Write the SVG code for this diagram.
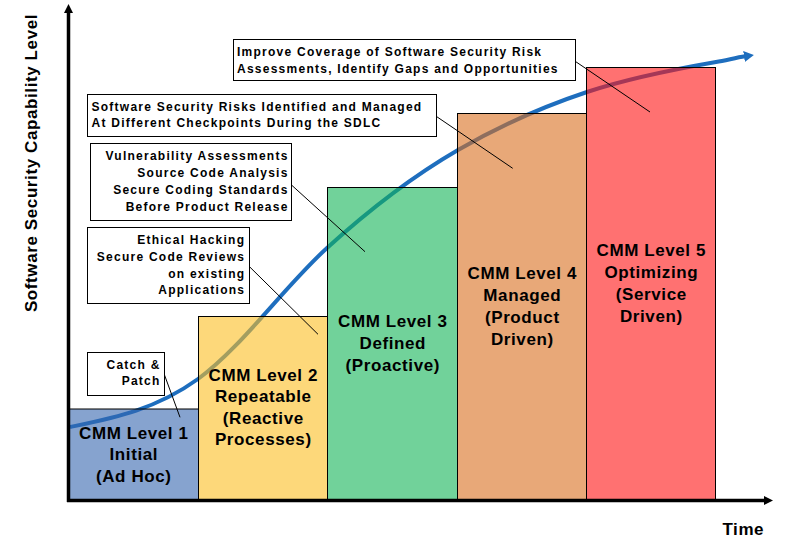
<svg xmlns="http://www.w3.org/2000/svg" width="788" height="544" viewBox="0 0 788 544">
<defs>
<marker id="trendHead" markerUnits="userSpaceOnUse" markerWidth="10" markerHeight="11" refX="1" refY="5.5" orient="auto" viewBox="0 0 10 11"><path d="M0,0 L10,5.5 L0,11 z" fill="#1E6EBE"/></marker>
<marker id="axisHead" markerUnits="userSpaceOnUse" markerWidth="9" markerHeight="9" refX="1" refY="4.5" orient="auto" viewBox="0 0 9 9"><path d="M0,0 L9,4.5 L0,9 z" fill="#000"/></marker>
<style>
.bar{fill-opacity:0.6;stroke:#000;stroke-width:1}
.lvl{font-family:"Liberation Sans",Arial,sans-serif;font-weight:bold;font-size:17px;letter-spacing:0.6px;text-anchor:middle;fill:#000}
.note rect{fill:#fff;stroke:#000;stroke-width:1}
.note text{font-family:"Liberation Sans",Arial,sans-serif;font-weight:bold;font-size:12px;letter-spacing:1.25px;fill:#000}
.r{text-anchor:end}
.lead{stroke:#000;stroke-width:1;fill:none}
.axis{stroke:#000;stroke-width:3.5;fill:none}
</style>
</defs>
<rect x="0" y="0" width="788" height="544" fill="#fff"/>

<g id="trend">
<path d="M70,427 C113,418 155,410 198,379 C241,348 284,287 327,248 C371,208 414,175.5 458,150 C501,125 544,106.3 587,92 C630,77.7 673,69.5 716,62 C726,60.3 736,57.7 745,56.3" fill="none" stroke="#1E6EBE" stroke-width="4" marker-end="url(#trendHead)"/>
</g>

<g id="level1">
<rect class="bar" x="69" y="409" width="129.5" height="91" fill="#3566AF" stroke-width="2"/>
<text class="lvl" x="133.8" y="438.5">CMM Level 1</text>
<text class="lvl" x="133.8" y="460">Initial</text>
<text class="lvl" x="133.8" y="481.5">(Ad Hoc)</text>
</g>
<g id="level2">
<rect class="bar" x="198.5" y="316.5" width="129" height="184" fill="#FCBE21"/>
<text class="lvl" x="263.3" y="381">CMM Level 2</text>
<text class="lvl" x="263.3" y="402">Repeatable</text>
<text class="lvl" x="263.3" y="423.5">(Reactive</text>
<text class="lvl" x="263.3" y="445">Processes)</text>
</g>
<g id="level3">
<rect class="bar" x="327.5" y="187.5" width="130" height="313" fill="#12B457"/>
<text class="lvl" x="392.8" y="327">CMM Level 3</text>
<text class="lvl" x="392.8" y="349">Defined</text>
<text class="lvl" x="392.8" y="370.5">(Proactive)</text>
</g>
<g id="level4">
<rect class="bar" x="457.5" y="113.5" width="129" height="387" fill="#D96E1E"/>
<text class="lvl" x="522.3" y="279">CMM Level 4</text>
<text class="lvl" x="522.3" y="301">Managed</text>
<text class="lvl" x="522.3" y="323">(Product</text>
<text class="lvl" x="522.3" y="345">Driven)</text>
</g>
<g id="level5">
<rect class="bar" x="586.5" y="67.5" width="129" height="433" fill="#FF1212"/>
<text class="lvl" x="651.3" y="256">CMM Level 5</text>
<text class="lvl" x="651.3" y="278">Optimizing</text>
<text class="lvl" x="651.3" y="300">(Service</text>
<text class="lvl" x="651.3" y="322">Driven)</text>
</g>

<g id="axes">
<line class="axis" x1="68.5" y1="502" x2="68.5" y2="12" marker-end="url(#axisHead)"/>
<line class="axis" x1="67" y1="500.5" x2="765" y2="500.5" marker-end="url(#axisHead)"/>
<text class="lvl" transform="translate(36.5,163) rotate(-90)" x="0" y="0">Software Security Capability Level</text>
<text class="lvl" x="743.3" y="535">Time</text>
</g>

<g id="note-improve" class="note">
<rect x="233.5" y="39.5" width="342" height="41"/>
<text x="237" y="56">Improve Coverage of Software Security Risk</text>
<text x="237" y="72.5">Assessments, Identify Gaps and Opportunities</text>
</g>
<g id="note-sdlc" class="note">
<rect x="87.5" y="94.5" width="349" height="42"/>
<text x="91.5" y="110.5">Software Security Risks Identified and Managed</text>
<text x="91.5" y="127">At Different Checkpoints During the SDLC</text>
</g>
<g id="note-vuln" class="note">
<rect x="90.5" y="143.5" width="201" height="77"/>
<text class="r" x="288.6" y="160">Vulnerability Assessments</text>
<text class="r" x="288.6" y="177">Source Code Analysis</text>
<text class="r" x="288.6" y="194">Secure Coding Standards</text>
<text class="r" x="288.6" y="210.7">Before Product Release</text>
</g>
<g id="note-ethical" class="note">
<rect x="87.5" y="227.5" width="162" height="76"/>
<text class="r" x="245.3" y="244">Ethical Hacking</text>
<text class="r" x="245.3" y="261">Secure Code Reviews</text>
<text class="r" x="245.3" y="277.5">on existing</text>
<text class="r" x="245.3" y="294">Applications</text>
</g>
<g id="note-catch" class="note">
<rect x="87.5" y="352.5" width="77" height="43"/>
<text class="r" x="160.6" y="368.5">Catch &amp;</text>
<text class="r" x="160.6" y="385">Patch</text>
</g>

<g id="connectors">
<line class="lead" x1="575.5" y1="61.5" x2="650" y2="112"/>
<line class="lead" x1="436.5" y1="116.5" x2="512.7" y2="168.3"/>
<line class="lead" x1="291.5" y1="185" x2="365" y2="251.7"/>
<line class="lead" x1="249.5" y1="266.7" x2="318" y2="334.3"/>
<line class="lead" x1="164.5" y1="375" x2="180" y2="417.3"/>
</g>
</svg>
